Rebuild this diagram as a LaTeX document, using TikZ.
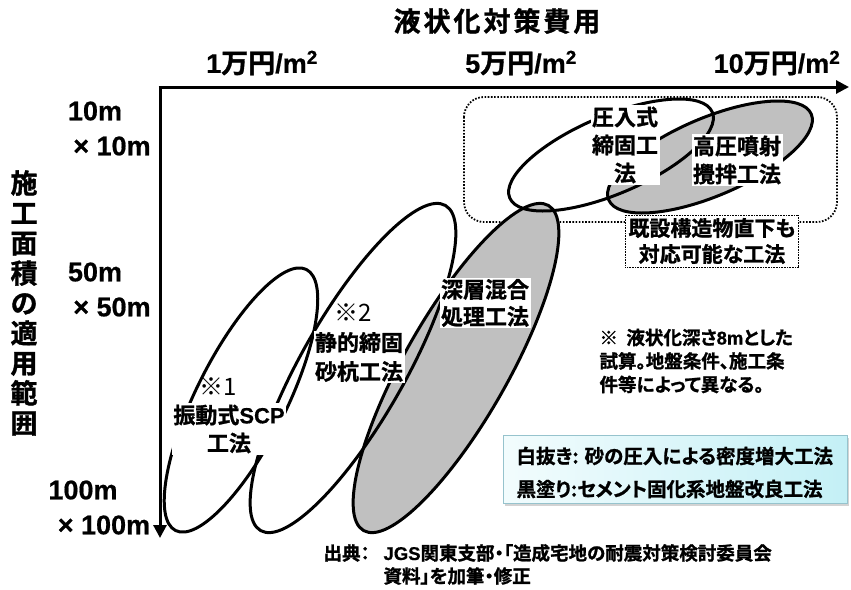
\documentclass[tikz,border=0pt]{standalone}
\usepackage{fontspec}
\setmainfont{Noto Sans CJK JP}[BoldFont={* Bold},BoldFeatures={FakeBold=1.2},RawFeature=+palt]
\newfontfamily\lat{Liberation Sans}[BoldFeatures={FakeBold=0.6}]
\usetikzlibrary{arrows.meta,shadows}
\definecolor{ellgrey}{RGB}{192,192,192}
\definecolor{legA}{RGB}{242,252,253}
\definecolor{legB}{RGB}{196,240,246}
\definecolor{legline}{RGB}{150,195,205}
\tikzset{
  ellline/.style={line width=3pt},
  ellfill/.style={fill=ellgrey},
  axis/.style={line width=3pt,-{Triangle[length=13pt,width=13pt]}},
  lbl/.style={fill=white,inner sep=1.5pt,align=center,font=\bfseries\fontsize{22}{28}\selectfont},
  marklbl/.style={inner sep=0pt,font=\mdseries\fontsize{24}{28}\selectfont},
  ticklbl/.style={font=\bfseries\fontsize{27}{30}\selectfont},
  ylbl/.style={font=\lat\bfseries\fontsize{27}{30}\selectfont},
}
\begin{document}
\begin{tikzpicture}[x=1pt,y=-1pt]
\useasboundingbox (0,0) rectangle (851,589);
% ellipse centres
\coordinate (e1) at (241,400);
\coordinate (e2) at (353,368);
\coordinate (e3) at (456,368);
\coordinate (e4) at (611,155);
\coordinate (e5) at (710,157);
% dotted region
\draw[line width=1.8pt,dash pattern=on 1.6pt off 1.6pt,rounded corners=20pt] (464,97) rectangle (837,222);
% grey fills
\fill[ellfill,rotate around={60.4:(e3)}] (e3) ellipse [x radius=187pt,y radius=52pt];
\fill[ellfill,rotate around={23:(e5)}] (e5) ellipse [x radius=110pt,y radius=39pt];
% outlines
\draw[ellline,rotate around={63.4:(e1)}] (e1) ellipse [x radius=146pt,y radius=45pt];
\draw[ellline,rotate around={60.4:(e2)}] (e2) ellipse [x radius=187pt,y radius=52pt];
\draw[ellline,rotate around={60.4:(e3)}] (e3) ellipse [x radius=187pt,y radius=52pt];
\draw[ellline,rotate around={23:(e4)}] (e4) ellipse [x radius=110pt,y radius=39pt];
\draw[ellline,rotate around={23:(e5)}] (e5) ellipse [x radius=110pt,y radius=39pt];
% axes
\coordinate (o) at (160,87);
\coordinate (xend) at (849,87);
\coordinate (yend) at (160,538);
\draw[axis] ([xshift=-1.5pt]o) -- (xend);
\draw[axis] (o) -- (yend);
% titles
\node[font=\bfseries\fontsize{27}{30}\selectfont\addfontfeature{LetterSpace=11}] (title) at (497,21) {液状化対策費用};
\node[ticklbl] (t1) at (262,63) {{\lat 1}万円{\lat /m\textsuperscript{2}}};
\node[ticklbl] (t5) at (521,63) {{\lat 5}万円{\lat /m\textsuperscript{2}}};
\node[ticklbl] (t10) at (777,63) {{\lat 10}万円{\lat /m\textsuperscript{2}}};
% y labels
\node[ylbl] (y1a) at (95,111) {10m};
\node[ylbl] (y1b) at (112,146) {× 10m};
\node[ylbl] (y2a) at (95,272) {50m};
\node[ylbl] (y2b) at (112,307) {× 50m};
\node[ylbl] (y3a) at (83,490) {100m};
\node[ylbl] (y3b) at (104,525) {× 100m};
\node[align=center,font=\bfseries\fontsize{27}{30}\selectfont] (ytitle) at (24,303)
  {施\\工\\面\\積\\の\\適\\用\\範\\囲};
% ellipse labels
\node[marklbl] (m1) at (218,387) {※1};
\node[lbl] (n1) at (229,429) {振動式{\lat SCP}\\工法};
\node[marklbl] (m2) at (353,313) {※2};
\node[lbl,font=\bfseries\fontsize{22}{29}\selectfont] (n2) at (359,357) {静的締固\\砂杭工法};
\node[lbl,font=\bfseries\fontsize{22}{27}\selectfont] (n3) at (485,303) {深層混合\\処理工法};
\node[lbl] (n4) at (625,145) {圧入式\\締固工\\法};
\node[lbl] (n5) at (737,160) {高圧噴射\\攪拌工法};
\node[draw,fill=white,line width=0.8pt,dash pattern=on 0.8pt off 0.8pt,inner sep=3pt,align=center,
      font=\bfseries\fontsize{21}{26}\selectfont] (n6) at (712,241) {既設構造物直下も\\対応可能な工法};
% note
\node[anchor=west,align=left,font=\bfseries\fontsize{18.5}{23.5}\selectfont] (note) at (596,361)
  {※\ \ 液状化深さ{\lat 8m}とした\\試算。地盤条件、施工条\\件等によって異なる。};
% legend
\node[draw=legline,line width=0.8pt,left color=legA,right color=legB,minimum width=344pt,minimum height=68pt,
      drop shadow={opacity=0.35,shadow xshift=2pt,shadow yshift=-2.5pt}] (leg) at (675,469) {};
\node[anchor=west,font=\bfseries\fontsize{19.5}{23}\selectfont] (leg1) at (513,456) {白抜き: 砂の圧入による密度増大工法};
\node[anchor=west,font=\bfseries\fontsize{19.5}{23}\selectfont] (leg2) at (513,489) {黒塗り:セメント固化系地盤改良工法};
% source
\node[anchor=west,font=\bfseries\fontsize{18.5}{21}\selectfont] (src0) at (320,553) {出典：};
\node[anchor=west,font=\bfseries\fontsize{18.5}{21}\selectfont] (src1) at (380,553) {{\lat JGS}関東支部・「造成宅地の耐震対策検討委員会};
\node[anchor=west,font=\bfseries\fontsize{18.5}{21}\selectfont] (src2) at (380,576) {資料」を加筆・修正};
\end{tikzpicture}
\end{document}
